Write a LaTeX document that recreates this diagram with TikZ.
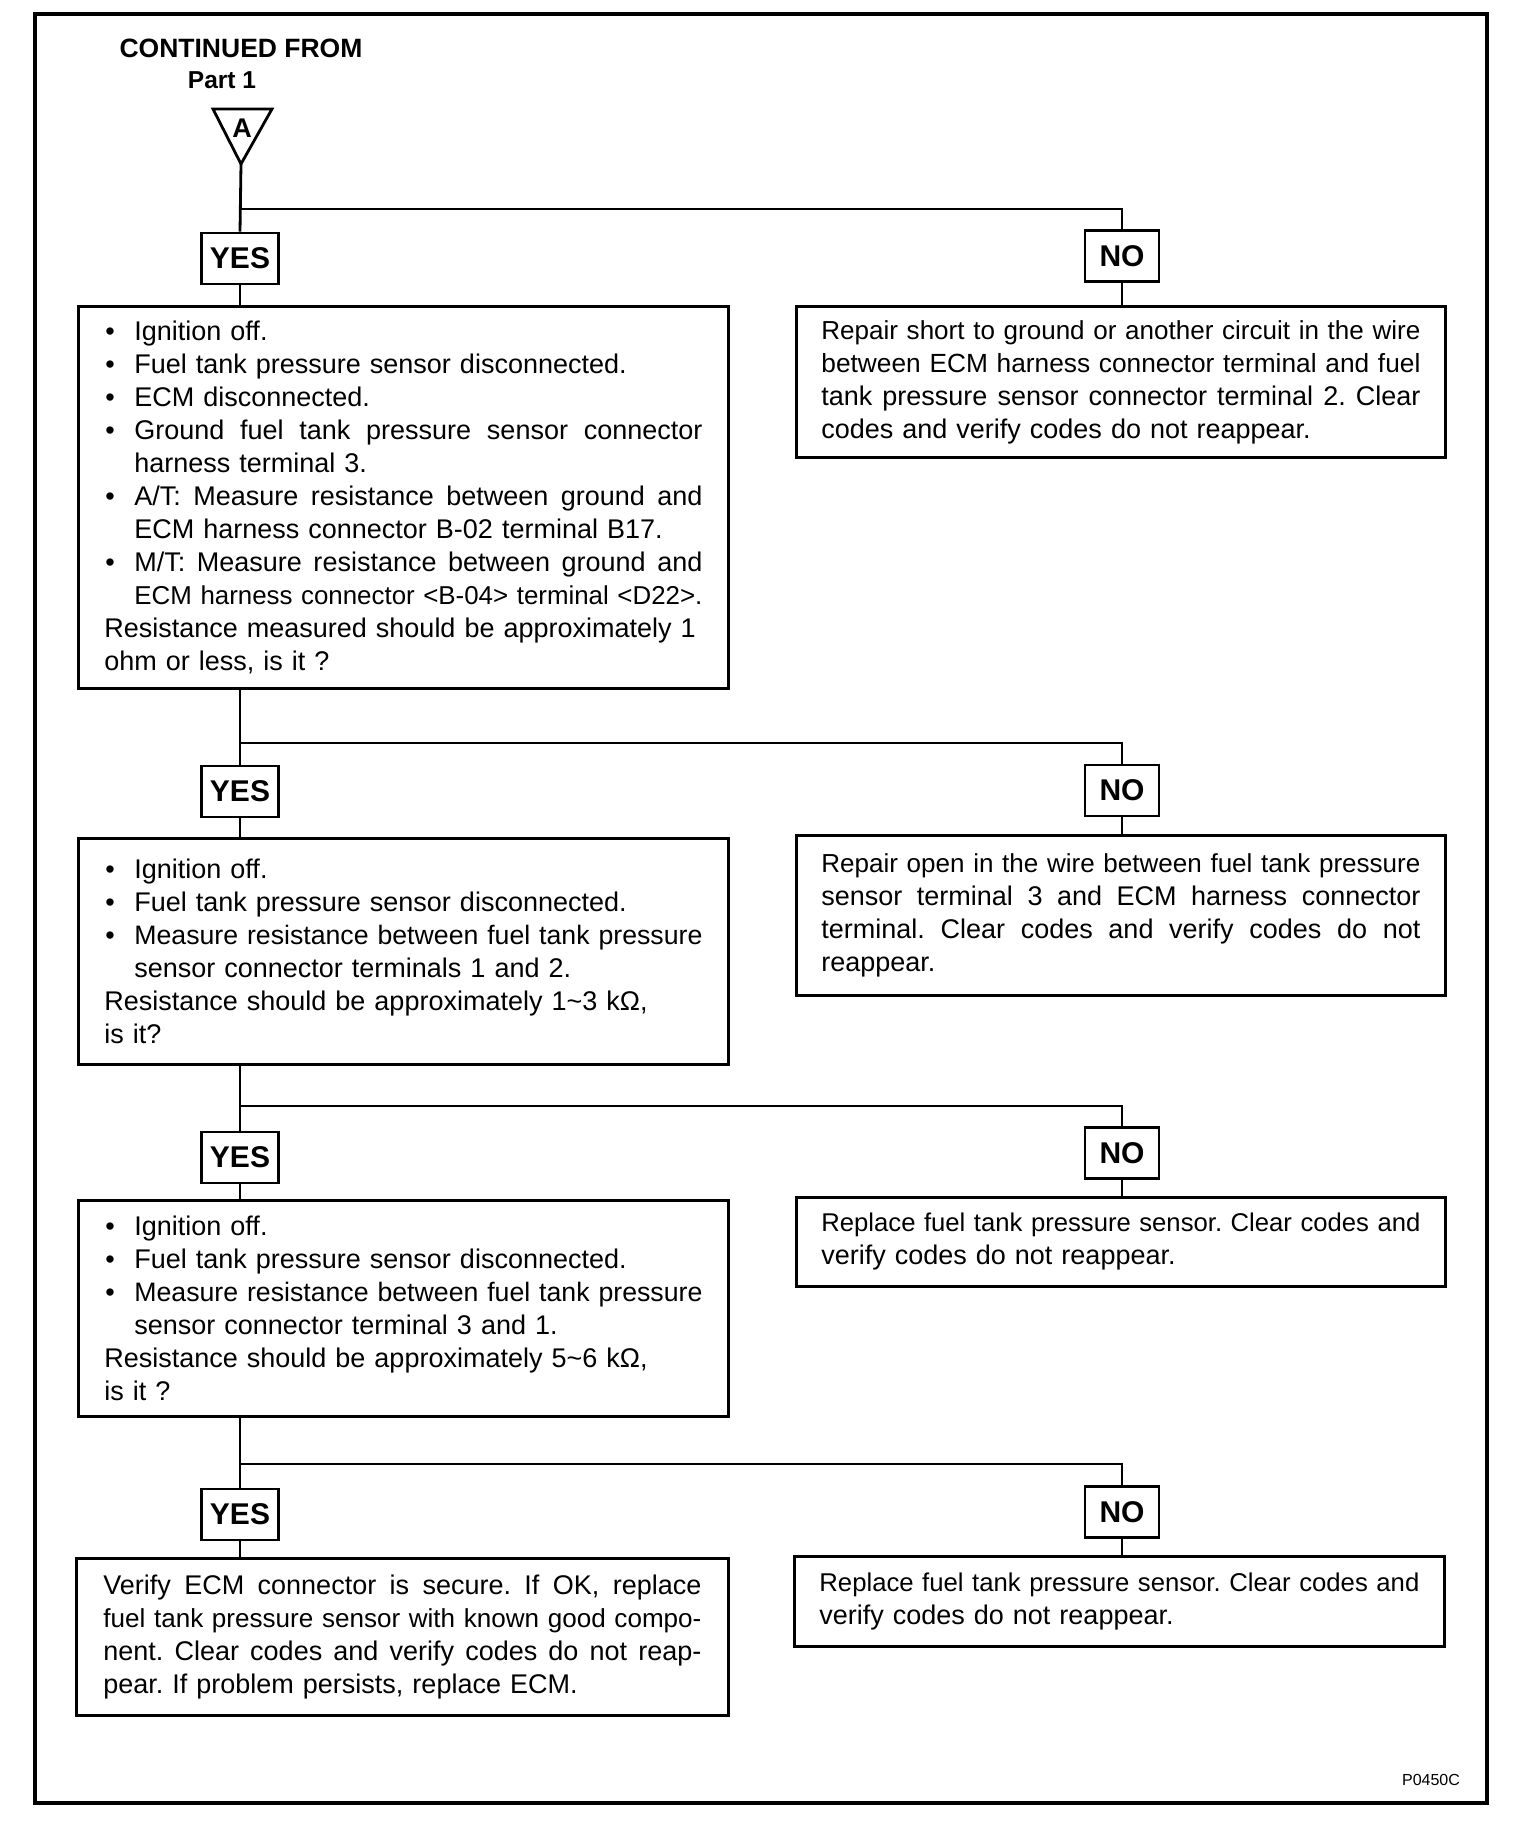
\documentclass[tikz,border=0pt]{standalone}
\usepackage{fontspec}
\setmainfont{Liberation Sans}
\usepackage{graphicx}
\frenchspacing
\newsavebox\lnbox
\newlength\tw \setlength\tw{598pt}
\newlength\bw \setlength\bw{568pt}
\newcommand\JL[2]{\leavevmode\sbox\lnbox{#2}\ifdim\wd\lnbox>#1\relax\resizebox{#1}{!}{\usebox\lnbox}\else
  \hbox to #1{\spaceskip=\fontdimen2\font plus 1fil\relax\xspaceskip=\fontdimen2\font plus 1fil\relax #2}\fi}
\newcommand\RL[2]{\leavevmode\sbox\lnbox{#2}\ifdim\wd\lnbox>#1\relax\resizebox{#1}{!}{\usebox\lnbox}\else\usebox\lnbox\fi}
\newcommand\bul{\makebox[30pt][l]{\hspace{1pt}\textbullet}}
\newcommand\ind{\makebox[30pt]{}}
\begin{document}
\begin{tikzpicture}[x=1pt,y=-1pt,
  conn/.style={line width=2.8pt},
  txtbox/.style={draw, line width=2.8pt, anchor=north west, inner xsep=26pt, inner ysep=0pt,
    text width=598pt, align=left, font=\fontsize{27}{33}\selectfont,
    execute at begin node={\setlength{\parindent}{0pt}\frenchspacing}},
  ynbox/.style={draw, line width=2.8pt, inner sep=0pt, minimum height=51pt,
    font=\fontsize{30}{31}\selectfont\bfseries},
  yesbox/.style={ynbox, minimum width=77pt},
  nobox/.style={ynbox, minimum width=74pt},
  hdr/.style={inner sep=0pt, anchor=base, font=\bfseries}
]
\useasboundingbox (0,0) rectangle (1536,1838);
% frame
\draw[line width=4pt] (35,14) rectangle (1487,1803);

% header
\node[hdr, font=\fontsize{26.5}{30}\selectfont\bfseries] (cont) at (241,58) {CONTINUED FROM};
\node[hdr, font=\fontsize{24.5}{30}\selectfont\bfseries] (part) at (222,89) {Part 1};
\coordinate (apex) at (241,164);
\draw[conn, line join=miter] (213,109) -- (272,109) -- (apex) -- cycle;
\node[inner sep=0pt, font=\fontsize{27}{28}\selectfont\bfseries] (lblA) at (242,128) {A};

% YES / NO labels
\node[yesbox] (yes1) at (240,258.5) {YES};
\node[yesbox] (yes2) at (240,791.5) {YES};
\node[yesbox] (yes3) at (240,1157.5) {YES};
\node[yesbox] (yes4) at (240,1514.5) {YES};
\node[nobox] (no1) at (1122,256) {NO};
\node[nobox] (no2) at (1122,790.5) {NO};
\node[nobox] (no3) at (1122,1153) {NO};
\node[nobox] (no4) at (1122,1512) {NO};

% text boxes
\node[txtbox, minimum height=382pt] (b1) at (77,305) {%
\bul\RL{\bw}{Ignition off.}\\
\bul\RL{\bw}{Fuel tank pressure sensor disconnected.}\\
\bul\RL{\bw}{ECM disconnected.}\\
\bul\JL{\bw}{Ground fuel tank pressure sensor connector}\\
\ind\RL{\bw}{harness terminal 3.}\\
\bul\JL{\bw}{A/T: Measure resistance between ground and}\\
\ind\RL{\bw}{ECM harness connector B-02 terminal B17.}\\
\bul\JL{\bw}{M/T: Measure resistance between ground and}\\
\ind\JL{\bw}{ECM harness connector <B-04> terminal <D22>.}\\
\RL{\tw}{Resistance measured should be approximately 1}\\
\RL{\tw}{ohm or less, is it ?}};

\node[txtbox, inner xsep=25pt, text width=599pt, minimum height=151pt] (n1) at (795,305) {%
\JL{599pt}{Repair short to ground or another circuit in the wire}\\
\JL{599pt}{between ECM harness connector terminal and fuel}\\
\JL{599pt}{tank pressure sensor connector terminal 2. Clear}\\
\RL{599pt}{codes and verify codes do not reappear.}};

\node[txtbox, minimum height=226pt] (b2) at (77,837) {%
\bul\RL{\bw}{Ignition off.}\\
\bul\RL{\bw}{Fuel tank pressure sensor disconnected.}\\
\bul\JL{\bw}{Measure resistance between fuel tank pressure}\\
\ind\RL{\bw}{sensor connector terminals 1 and 2.}\\
\RL{\tw}{Resistance should be approximately 1\textasciitilde 3 kΩ,}\\
\RL{\tw}{is it?}};

\node[txtbox, inner xsep=25pt, text width=599pt, minimum height=160pt] (n2) at (795,834) {%
\JL{599pt}{Repair open in the wire between fuel tank pressure}\\
\JL{599pt}{sensor terminal 3 and ECM harness connector}\\
\JL{599pt}{terminal. Clear codes and verify codes do not}\\
\RL{599pt}{reappear.}};

\node[txtbox, minimum height=216pt] (b3) at (77,1199) {%
\bul\RL{\bw}{Ignition off.}\\
\bul\RL{\bw}{Fuel tank pressure sensor disconnected.}\\
\bul\JL{\bw}{Measure resistance between fuel tank pressure}\\
\ind\RL{\bw}{sensor connector terminal 3 and 1.}\\
\RL{\tw}{Resistance should be approximately 5\textasciitilde 6 kΩ,}\\
\RL{\tw}{is it ?}};

\node[txtbox, inner xsep=25pt, text width=599pt, minimum height=89pt] (n3) at (795,1196) {%
\JL{599pt}{Replace fuel tank pressure sensor. Clear codes and}\\
\RL{599pt}{verify codes do not reappear.}};

\node[txtbox, inner xsep=27pt, minimum height=157pt] (b4) at (75,1557) {%
\JL{\tw}{Verify ECM connector is secure. If OK, replace}\\
\JL{\tw}{fuel tank pressure sensor with known good compo-}\\
\JL{\tw}{nent. Clear codes and verify codes do not reap-}\\
\RL{\tw}{pear. If problem persists, replace ECM.}};

\node[txtbox, inner xsep=25pt, text width=600pt, minimum height=90pt] (n4) at (793,1555) {%
\JL{600pt}{Replace fuel tank pressure sensor. Clear codes and}\\
\RL{600pt}{verify codes do not reappear.}};

% branch coordinates
\coordinate (j1) at (240,209);  \coordinate (k1) at (1122,209);
\coordinate (j2) at (240,743);  \coordinate (k2) at (1122,743);
\coordinate (j3) at (240,1106); \coordinate (k3) at (1122,1106);
\coordinate (j4) at (240,1464); \coordinate (k4) at (1122,1464);

% connectors
\draw[conn] (apex) -- (yes1.north);
\draw[conn] (j1) -- (k1) -- (no1.north);
\draw[conn] (yes1.south) -- (yes1.south |- b1.north);
\draw[conn] (no1.south) -- (no1.south |- n1.north);

\draw[conn] (yes2.north |- b1.south) -- (yes2.north);
\draw[conn] (j2) -- (k2) -- (no2.north);
\draw[conn] (yes2.south) -- (yes2.south |- b2.north);
\draw[conn] (no2.south) -- (no2.south |- n2.north);

\draw[conn] (yes3.north |- b2.south) -- (yes3.north);
\draw[conn] (j3) -- (k3) -- (no3.north);
\draw[conn] (yes3.south) -- (yes3.south |- b3.north);
\draw[conn] (no3.south) -- (no3.south |- n3.north);

\draw[conn] (yes4.north |- b3.south) -- (yes4.north);
\draw[conn] (j4) -- (k4) -- (no4.north);
\draw[conn] (yes4.south) -- (yes4.south |- b4.north);
\draw[conn] (no4.south) -- (no4.south |- n4.north);

% code
\node[inner sep=0pt, anchor=base, font=\fontsize{16}{18}\selectfont] (code) at (1431,1785) {P0450C};
\end{tikzpicture}
\end{document}
